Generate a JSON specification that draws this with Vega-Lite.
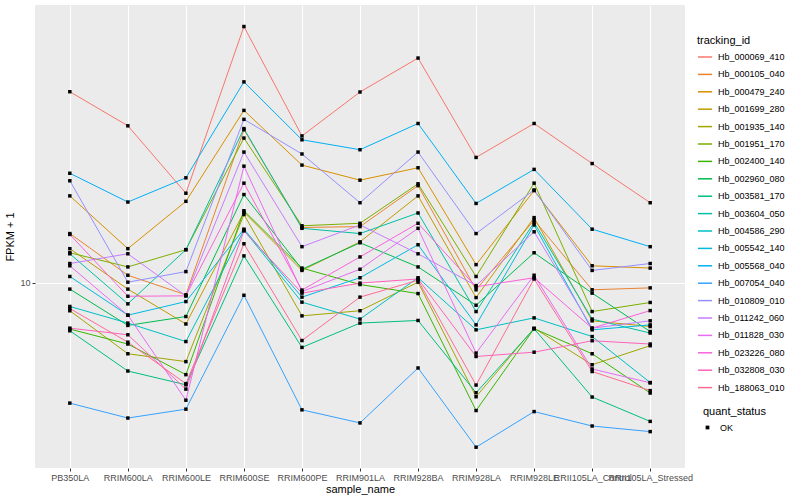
{
"$schema":"https://vega.github.io/schema/vega-lite/v6.json",
"autosize":{"type":"none"},
"padding":{"left":35,"top":5,"right":115,"bottom":32},
"width":650,"height":463,
"background":"white",
"config":{
 "view":{"fill":"#EBEBEB","stroke":null},
 "font":"Liberation Sans",
 "axis":{"labelFont":"Liberation Sans","titleFont":"Liberation Sans","labelColor":"#4D4D4D","labelFontSize":9,"tickColor":"#333333","tickSize":3,"domain":false,"gridColor":"white","gridWidth":1.1,"titleFontWeight":"normal","titleFontSize":11,"titleColor":"black"},
 "legend":{"titleFontSize":11,"titleFontWeight":"normal","labelFontSize":9,"labelFont":"Liberation Sans","titleFont":"Liberation Sans","titleColor":"black","labelColor":"black"}
},
"data":{"values":[
{"tracking_id":"Hb_000069_410","sample_name":"PB350LA","FPKM":43.4,"quant_status":"OK"},
{"tracking_id":"Hb_000069_410","sample_name":"RRIM600LA","FPKM":33.4,"quant_status":"OK"},
{"tracking_id":"Hb_000069_410","sample_name":"RRIM600LE","FPKM":19.9,"quant_status":"OK"},
{"tracking_id":"Hb_000069_410","sample_name":"RRIM600SE","FPKM":71.6,"quant_status":"OK"},
{"tracking_id":"Hb_000069_410","sample_name":"RRIM600PE","FPKM":30.9,"quant_status":"OK"},
{"tracking_id":"Hb_000069_410","sample_name":"RRIM901LA","FPKM":43.3,"quant_status":"OK"},
{"tracking_id":"Hb_000069_410","sample_name":"RRIM928BA","FPKM":56.2,"quant_status":"OK"},
{"tracking_id":"Hb_000069_410","sample_name":"RRIM928LA","FPKM":26.2,"quant_status":"OK"},
{"tracking_id":"Hb_000069_410","sample_name":"RRIM928LE","FPKM":34.0,"quant_status":"OK"},
{"tracking_id":"Hb_000069_410","sample_name":"RRII105LA_Control","FPKM":25.0,"quant_status":"OK"},
{"tracking_id":"Hb_000069_410","sample_name":"RRII105LA_Stressed","FPKM":18.5,"quant_status":"OK"},
{"tracking_id":"Hb_000105_040","sample_name":"PB350LA","FPKM":14.6,"quant_status":"OK"},
{"tracking_id":"Hb_000105_040","sample_name":"RRIM600LA","FPKM":10.6,"quant_status":"OK"},
{"tracking_id":"Hb_000105_040","sample_name":"RRIM600LE","FPKM":9.12,"quant_status":"OK"},
{"tracking_id":"Hb_000105_040","sample_name":"RRIM600SE","FPKM":32.4,"quant_status":"OK"},
{"tracking_id":"Hb_000105_040","sample_name":"RRIM600PE","FPKM":15.3,"quant_status":"OK"},
{"tracking_id":"Hb_000105_040","sample_name":"RRIM901LA","FPKM":15.4,"quant_status":"OK"},
{"tracking_id":"Hb_000105_040","sample_name":"RRIM928BA","FPKM":21.1,"quant_status":"OK"},
{"tracking_id":"Hb_000105_040","sample_name":"RRIM928LA","FPKM":9.48,"quant_status":"OK"},
{"tracking_id":"Hb_000105_040","sample_name":"RRIM928LE","FPKM":16.2,"quant_status":"OK"},
{"tracking_id":"Hb_000105_040","sample_name":"RRII105LA_Control","FPKM":9.48,"quant_status":"OK"},
{"tracking_id":"Hb_000105_040","sample_name":"RRII105LA_Stressed","FPKM":9.62,"quant_status":"OK"},
{"tracking_id":"Hb_000479_240","sample_name":"PB350LA","FPKM":19.5,"quant_status":"OK"},
{"tracking_id":"Hb_000479_240","sample_name":"RRIM600LA","FPKM":13.0,"quant_status":"OK"},
{"tracking_id":"Hb_000479_240","sample_name":"RRIM600LE","FPKM":18.7,"quant_status":"OK"},
{"tracking_id":"Hb_000479_240","sample_name":"RRIM600SE","FPKM":37.6,"quant_status":"OK"},
{"tracking_id":"Hb_000479_240","sample_name":"RRIM600PE","FPKM":24.7,"quant_status":"OK"},
{"tracking_id":"Hb_000479_240","sample_name":"RRIM901LA","FPKM":22.0,"quant_status":"OK"},
{"tracking_id":"Hb_000479_240","sample_name":"RRIM928BA","FPKM":24.2,"quant_status":"OK"},
{"tracking_id":"Hb_000479_240","sample_name":"RRIM928LA","FPKM":11.5,"quant_status":"OK"},
{"tracking_id":"Hb_000479_240","sample_name":"RRIM928LE","FPKM":20.3,"quant_status":"OK"},
{"tracking_id":"Hb_000479_240","sample_name":"RRII105LA_Control","FPKM":11.4,"quant_status":"OK"},
{"tracking_id":"Hb_000479_240","sample_name":"RRII105LA_Stressed","FPKM":11.2,"quant_status":"OK"},
{"tracking_id":"Hb_001699_280","sample_name":"PB350LA","FPKM":13.0,"quant_status":"OK"},
{"tracking_id":"Hb_001699_280","sample_name":"RRIM600LA","FPKM":9.53,"quant_status":"OK"},
{"tracking_id":"Hb_001699_280","sample_name":"RRIM600LE","FPKM":7.29,"quant_status":"OK"},
{"tracking_id":"Hb_001699_280","sample_name":"RRIM600SE","FPKM":17.2,"quant_status":"OK"},
{"tracking_id":"Hb_001699_280","sample_name":"RRIM600PE","FPKM":11.0,"quant_status":"OK"},
{"tracking_id":"Hb_001699_280","sample_name":"RRIM901LA","FPKM":13.7,"quant_status":"OK"},
{"tracking_id":"Hb_001699_280","sample_name":"RRIM928BA","FPKM":19.5,"quant_status":"OK"},
{"tracking_id":"Hb_001699_280","sample_name":"RRIM928LA","FPKM":8.93,"quant_status":"OK"},
{"tracking_id":"Hb_001699_280","sample_name":"RRIM928LE","FPKM":16.5,"quant_status":"OK"},
{"tracking_id":"Hb_001699_280","sample_name":"RRII105LA_Control","FPKM":7.47,"quant_status":"OK"},
{"tracking_id":"Hb_001699_280","sample_name":"RRII105LA_Stressed","FPKM":7.15,"quant_status":"OK"},
{"tracking_id":"Hb_001935_140","sample_name":"PB350LA","FPKM":8.07,"quant_status":"OK"},
{"tracking_id":"Hb_001935_140","sample_name":"RRIM600LA","FPKM":5.80,"quant_status":"OK"},
{"tracking_id":"Hb_001935_140","sample_name":"RRIM600LE","FPKM":5.46,"quant_status":"OK"},
{"tracking_id":"Hb_001935_140","sample_name":"RRIM600SE","FPKM":16.9,"quant_status":"OK"},
{"tracking_id":"Hb_001935_140","sample_name":"RRIM600PE","FPKM":7.76,"quant_status":"OK"},
{"tracking_id":"Hb_001935_140","sample_name":"RRIM901LA","FPKM":8.07,"quant_status":"OK"},
{"tracking_id":"Hb_001935_140","sample_name":"RRIM928BA","FPKM":10.05,"quant_status":"OK"},
{"tracking_id":"Hb_001935_140","sample_name":"RRIM928LA","FPKM":4.17,"quant_status":"OK"},
{"tracking_id":"Hb_001935_140","sample_name":"RRIM928LE","FPKM":7.06,"quant_status":"OK"},
{"tracking_id":"Hb_001935_140","sample_name":"RRII105LA_Control","FPKM":5.33,"quant_status":"OK"},
{"tracking_id":"Hb_001935_140","sample_name":"RRII105LA_Stressed","FPKM":6.17,"quant_status":"OK"},
{"tracking_id":"Hb_001951_170","sample_name":"PB350LA","FPKM":12.6,"quant_status":"OK"},
{"tracking_id":"Hb_001951_170","sample_name":"RRIM600LA","FPKM":11.3,"quant_status":"OK"},
{"tracking_id":"Hb_001951_170","sample_name":"RRIM600LE","FPKM":12.9,"quant_status":"OK"},
{"tracking_id":"Hb_001951_170","sample_name":"RRIM600SE","FPKM":30.4,"quant_status":"OK"},
{"tracking_id":"Hb_001951_170","sample_name":"RRIM600PE","FPKM":15.5,"quant_status":"OK"},
{"tracking_id":"Hb_001951_170","sample_name":"RRIM901LA","FPKM":15.8,"quant_status":"OK"},
{"tracking_id":"Hb_001951_170","sample_name":"RRIM928BA","FPKM":21.4,"quant_status":"OK"},
{"tracking_id":"Hb_001951_170","sample_name":"RRIM928LA","FPKM":10.5,"quant_status":"OK"},
{"tracking_id":"Hb_001951_170","sample_name":"RRIM928LE","FPKM":21.5,"quant_status":"OK"},
{"tracking_id":"Hb_001951_170","sample_name":"RRII105LA_Control","FPKM":8.02,"quant_status":"OK"},
{"tracking_id":"Hb_001951_170","sample_name":"RRII105LA_Stressed","FPKM":8.60,"quant_status":"OK"},
{"tracking_id":"Hb_002400_140","sample_name":"PB350LA","FPKM":7.01,"quant_status":"OK"},
{"tracking_id":"Hb_002400_140","sample_name":"RRIM600LA","FPKM":6.25,"quant_status":"OK"},
{"tracking_id":"Hb_002400_140","sample_name":"RRIM600LE","FPKM":4.94,"quant_status":"OK"},
{"tracking_id":"Hb_002400_140","sample_name":"RRIM600SE","FPKM":17.4,"quant_status":"OK"},
{"tracking_id":"Hb_002400_140","sample_name":"RRIM600PE","FPKM":11.2,"quant_status":"OK"},
{"tracking_id":"Hb_002400_140","sample_name":"RRIM901LA","FPKM":9.87,"quant_status":"OK"},
{"tracking_id":"Hb_002400_140","sample_name":"RRIM928BA","FPKM":9.21,"quant_status":"OK"},
{"tracking_id":"Hb_002400_140","sample_name":"RRIM928LA","FPKM":3.75,"quant_status":"OK"},
{"tracking_id":"Hb_002400_140","sample_name":"RRIM928LE","FPKM":7.03,"quant_status":"OK"},
{"tracking_id":"Hb_002400_140","sample_name":"RRII105LA_Control","FPKM":5.80,"quant_status":"OK"},
{"tracking_id":"Hb_002400_140","sample_name":"RRII105LA_Stressed","FPKM":4.29,"quant_status":"OK"},
{"tracking_id":"Hb_002960_080","sample_name":"PB350LA","FPKM":9.53,"quant_status":"OK"},
{"tracking_id":"Hb_002960_080","sample_name":"RRIM600LA","FPKM":7.21,"quant_status":"OK"},
{"tracking_id":"Hb_002960_080","sample_name":"RRIM600LE","FPKM":7.72,"quant_status":"OK"},
{"tracking_id":"Hb_002960_080","sample_name":"RRIM600SE","FPKM":19.7,"quant_status":"OK"},
{"tracking_id":"Hb_002960_080","sample_name":"RRIM600PE","FPKM":11.1,"quant_status":"OK"},
{"tracking_id":"Hb_002960_080","sample_name":"RRIM901LA","FPKM":13.6,"quant_status":"OK"},
{"tracking_id":"Hb_002960_080","sample_name":"RRIM928BA","FPKM":11.3,"quant_status":"OK"},
{"tracking_id":"Hb_002960_080","sample_name":"RRIM928LA","FPKM":8.42,"quant_status":"OK"},
{"tracking_id":"Hb_002960_080","sample_name":"RRIM928LE","FPKM":12.6,"quant_status":"OK"},
{"tracking_id":"Hb_002960_080","sample_name":"RRII105LA_Control","FPKM":9.24,"quant_status":"OK"},
{"tracking_id":"Hb_002960_080","sample_name":"RRII105LA_Stressed","FPKM":6.88,"quant_status":"OK"},
{"tracking_id":"Hb_003581_170","sample_name":"PB350LA","FPKM":6.92,"quant_status":"OK"},
{"tracking_id":"Hb_003581_170","sample_name":"RRIM600LA","FPKM":5.08,"quant_status":"OK"},
{"tracking_id":"Hb_003581_170","sample_name":"RRIM600LE","FPKM":4.57,"quant_status":"OK"},
{"tracking_id":"Hb_003581_170","sample_name":"RRIM600SE","FPKM":12.3,"quant_status":"OK"},
{"tracking_id":"Hb_003581_170","sample_name":"RRIM600PE","FPKM":6.09,"quant_status":"OK"},
{"tracking_id":"Hb_003581_170","sample_name":"RRIM901LA","FPKM":7.34,"quant_status":"OK"},
{"tracking_id":"Hb_003581_170","sample_name":"RRIM928BA","FPKM":7.49,"quant_status":"OK"},
{"tracking_id":"Hb_003581_170","sample_name":"RRIM928LA","FPKM":4.30,"quant_status":"OK"},
{"tracking_id":"Hb_003581_170","sample_name":"RRIM928LE","FPKM":7.03,"quant_status":"OK"},
{"tracking_id":"Hb_003581_170","sample_name":"RRII105LA_Control","FPKM":4.16,"quant_status":"OK"},
{"tracking_id":"Hb_003581_170","sample_name":"RRII105LA_Stressed","FPKM":3.45,"quant_status":"OK"},
{"tracking_id":"Hb_003604_050","sample_name":"PB350LA","FPKM":12.5,"quant_status":"OK"},
{"tracking_id":"Hb_003604_050","sample_name":"RRIM600LA","FPKM":8.51,"quant_status":"OK"},
{"tracking_id":"Hb_003604_050","sample_name":"RRIM600LE","FPKM":12.9,"quant_status":"OK"},
{"tracking_id":"Hb_003604_050","sample_name":"RRIM600SE","FPKM":32.7,"quant_status":"OK"},
{"tracking_id":"Hb_003604_050","sample_name":"RRIM600PE","FPKM":15.2,"quant_status":"OK"},
{"tracking_id":"Hb_003604_050","sample_name":"RRIM901LA","FPKM":14.6,"quant_status":"OK"},
{"tracking_id":"Hb_003604_050","sample_name":"RRIM928BA","FPKM":17.1,"quant_status":"OK"},
{"tracking_id":"Hb_003604_050","sample_name":"RRIM928LA","FPKM":8.02,"quant_status":"OK"},
{"tracking_id":"Hb_003604_050","sample_name":"RRIM928LE","FPKM":15.9,"quant_status":"OK"},
{"tracking_id":"Hb_003604_050","sample_name":"RRII105LA_Control","FPKM":7.57,"quant_status":"OK"},
{"tracking_id":"Hb_003604_050","sample_name":"RRII105LA_Stressed","FPKM":6.80,"quant_status":"OK"},
{"tracking_id":"Hb_004586_290","sample_name":"PB350LA","FPKM":8.34,"quant_status":"OK"},
{"tracking_id":"Hb_004586_290","sample_name":"RRIM600LA","FPKM":7.34,"quant_status":"OK"},
{"tracking_id":"Hb_004586_290","sample_name":"RRIM600LE","FPKM":6.37,"quant_status":"OK"},
{"tracking_id":"Hb_004586_290","sample_name":"RRIM600SE","FPKM":15.0,"quant_status":"OK"},
{"tracking_id":"Hb_004586_290","sample_name":"RRIM600PE","FPKM":8.62,"quant_status":"OK"},
{"tracking_id":"Hb_004586_290","sample_name":"RRIM901LA","FPKM":7.57,"quant_status":"OK"},
{"tracking_id":"Hb_004586_290","sample_name":"RRIM928BA","FPKM":10.4,"quant_status":"OK"},
{"tracking_id":"Hb_004586_290","sample_name":"RRIM928LA","FPKM":6.97,"quant_status":"OK"},
{"tracking_id":"Hb_004586_290","sample_name":"RRIM928LE","FPKM":7.64,"quant_status":"OK"},
{"tracking_id":"Hb_004586_290","sample_name":"RRII105LA_Control","FPKM":6.62,"quant_status":"OK"},
{"tracking_id":"Hb_004586_290","sample_name":"RRII105LA_Stressed","FPKM":4.65,"quant_status":"OK"},
{"tracking_id":"Hb_005542_140","sample_name":"PB350LA","FPKM":10.5,"quant_status":"OK"},
{"tracking_id":"Hb_005542_140","sample_name":"RRIM600LA","FPKM":7.80,"quant_status":"OK"},
{"tracking_id":"Hb_005542_140","sample_name":"RRIM600LE","FPKM":8.66,"quant_status":"OK"},
{"tracking_id":"Hb_005542_140","sample_name":"RRIM600SE","FPKM":15.1,"quant_status":"OK"},
{"tracking_id":"Hb_005542_140","sample_name":"RRIM600PE","FPKM":8.96,"quant_status":"OK"},
{"tracking_id":"Hb_005542_140","sample_name":"RRIM901LA","FPKM":10.4,"quant_status":"OK"},
{"tracking_id":"Hb_005542_140","sample_name":"RRIM928BA","FPKM":13.4,"quant_status":"OK"},
{"tracking_id":"Hb_005542_140","sample_name":"RRIM928LA","FPKM":7.24,"quant_status":"OK"},
{"tracking_id":"Hb_005542_140","sample_name":"RRIM928LE","FPKM":15.6,"quant_status":"OK"},
{"tracking_id":"Hb_005542_140","sample_name":"RRII105LA_Control","FPKM":6.97,"quant_status":"OK"},
{"tracking_id":"Hb_005542_140","sample_name":"RRII105LA_Stressed","FPKM":7.24,"quant_status":"OK"},
{"tracking_id":"Hb_005568_040","sample_name":"PB350LA","FPKM":23.2,"quant_status":"OK"},
{"tracking_id":"Hb_005568_040","sample_name":"RRIM600LA","FPKM":18.6,"quant_status":"OK"},
{"tracking_id":"Hb_005568_040","sample_name":"RRIM600LE","FPKM":22.4,"quant_status":"OK"},
{"tracking_id":"Hb_005568_040","sample_name":"RRIM600SE","FPKM":46.8,"quant_status":"OK"},
{"tracking_id":"Hb_005568_040","sample_name":"RRIM600PE","FPKM":30.0,"quant_status":"OK"},
{"tracking_id":"Hb_005568_040","sample_name":"RRIM901LA","FPKM":27.8,"quant_status":"OK"},
{"tracking_id":"Hb_005568_040","sample_name":"RRIM928BA","FPKM":34.0,"quant_status":"OK"},
{"tracking_id":"Hb_005568_040","sample_name":"RRIM928LA","FPKM":18.4,"quant_status":"OK"},
{"tracking_id":"Hb_005568_040","sample_name":"RRIM928LE","FPKM":23.9,"quant_status":"OK"},
{"tracking_id":"Hb_005568_040","sample_name":"RRII105LA_Control","FPKM":15.1,"quant_status":"OK"},
{"tracking_id":"Hb_005568_040","sample_name":"RRII105LA_Stressed","FPKM":13.2,"quant_status":"OK"},
{"tracking_id":"Hb_007054_040","sample_name":"PB350LA","FPKM":3.97,"quant_status":"OK"},
{"tracking_id":"Hb_007054_040","sample_name":"RRIM600LA","FPKM":3.54,"quant_status":"OK"},
{"tracking_id":"Hb_007054_040","sample_name":"RRIM600LE","FPKM":3.79,"quant_status":"OK"},
{"tracking_id":"Hb_007054_040","sample_name":"RRIM600SE","FPKM":9.09,"quant_status":"OK"},
{"tracking_id":"Hb_007054_040","sample_name":"RRIM600PE","FPKM":3.77,"quant_status":"OK"},
{"tracking_id":"Hb_007054_040","sample_name":"RRIM901LA","FPKM":3.41,"quant_status":"OK"},
{"tracking_id":"Hb_007054_040","sample_name":"RRIM928BA","FPKM":5.20,"quant_status":"OK"},
{"tracking_id":"Hb_007054_040","sample_name":"RRIM928LA","FPKM":2.83,"quant_status":"OK"},
{"tracking_id":"Hb_007054_040","sample_name":"RRIM928LE","FPKM":3.72,"quant_status":"OK"},
{"tracking_id":"Hb_007054_040","sample_name":"RRII105LA_Control","FPKM":3.33,"quant_status":"OK"},
{"tracking_id":"Hb_007054_040","sample_name":"RRII105LA_Stressed","FPKM":3.19,"quant_status":"OK"},
{"tracking_id":"Hb_010809_010","sample_name":"PB350LA","FPKM":21.9,"quant_status":"OK"},
{"tracking_id":"Hb_010809_010","sample_name":"RRIM600LA","FPKM":10.05,"quant_status":"OK"},
{"tracking_id":"Hb_010809_010","sample_name":"RRIM600LE","FPKM":10.9,"quant_status":"OK"},
{"tracking_id":"Hb_010809_010","sample_name":"RRIM600SE","FPKM":35.1,"quant_status":"OK"},
{"tracking_id":"Hb_010809_010","sample_name":"RRIM600PE","FPKM":26.9,"quant_status":"OK"},
{"tracking_id":"Hb_010809_010","sample_name":"RRIM901LA","FPKM":18.5,"quant_status":"OK"},
{"tracking_id":"Hb_010809_010","sample_name":"RRIM928BA","FPKM":27.3,"quant_status":"OK"},
{"tracking_id":"Hb_010809_010","sample_name":"RRIM928LA","FPKM":14.6,"quant_status":"OK"},
{"tracking_id":"Hb_010809_010","sample_name":"RRIM928LE","FPKM":20.4,"quant_status":"OK"},
{"tracking_id":"Hb_010809_010","sample_name":"RRII105LA_Control","FPKM":11.0,"quant_status":"OK"},
{"tracking_id":"Hb_010809_010","sample_name":"RRII105LA_Stressed","FPKM":11.6,"quant_status":"OK"},
{"tracking_id":"Hb_011242_060","sample_name":"PB350LA","FPKM":11.6,"quant_status":"OK"},
{"tracking_id":"Hb_011242_060","sample_name":"RRIM600LA","FPKM":12.5,"quant_status":"OK"},
{"tracking_id":"Hb_011242_060","sample_name":"RRIM600LE","FPKM":9.05,"quant_status":"OK"},
{"tracking_id":"Hb_011242_060","sample_name":"RRIM600SE","FPKM":27.3,"quant_status":"OK"},
{"tracking_id":"Hb_011242_060","sample_name":"RRIM600PE","FPKM":13.2,"quant_status":"OK"},
{"tracking_id":"Hb_011242_060","sample_name":"RRIM901LA","FPKM":15.6,"quant_status":"OK"},
{"tracking_id":"Hb_011242_060","sample_name":"RRIM928BA","FPKM":12.5,"quant_status":"OK"},
{"tracking_id":"Hb_011242_060","sample_name":"RRIM928LA","FPKM":9.79,"quant_status":"OK"},
{"tracking_id":"Hb_011242_060","sample_name":"RRIM928LE","FPKM":14.8,"quant_status":"OK"},
{"tracking_id":"Hb_011242_060","sample_name":"RRII105LA_Control","FPKM":7.06,"quant_status":"OK"},
{"tracking_id":"Hb_011242_060","sample_name":"RRII105LA_Stressed","FPKM":7.47,"quant_status":"OK"},
{"tracking_id":"Hb_011828_030","sample_name":"PB350LA","FPKM":11.4,"quant_status":"OK"},
{"tracking_id":"Hb_011828_030","sample_name":"RRIM600LA","FPKM":7.80,"quant_status":"OK"},
{"tracking_id":"Hb_011828_030","sample_name":"RRIM600LE","FPKM":4.06,"quant_status":"OK"},
{"tracking_id":"Hb_011828_030","sample_name":"RRIM600SE","FPKM":24.5,"quant_status":"OK"},
{"tracking_id":"Hb_011828_030","sample_name":"RRIM600PE","FPKM":9.35,"quant_status":"OK"},
{"tracking_id":"Hb_011828_030","sample_name":"RRIM901LA","FPKM":11.1,"quant_status":"OK"},
{"tracking_id":"Hb_011828_030","sample_name":"RRIM928BA","FPKM":15.2,"quant_status":"OK"},
{"tracking_id":"Hb_011828_030","sample_name":"RRIM928LA","FPKM":5.83,"quant_status":"OK"},
{"tracking_id":"Hb_011828_030","sample_name":"RRIM928LE","FPKM":10.6,"quant_status":"OK"},
{"tracking_id":"Hb_011828_030","sample_name":"RRII105LA_Control","FPKM":5.16,"quant_status":"OK"},
{"tracking_id":"Hb_011828_030","sample_name":"RRII105LA_Stressed","FPKM":4.64,"quant_status":"OK"},
{"tracking_id":"Hb_023226_080","sample_name":"PB350LA","FPKM":14.5,"quant_status":"OK"},
{"tracking_id":"Hb_023226_080","sample_name":"RRIM600LA","FPKM":9.02,"quant_status":"OK"},
{"tracking_id":"Hb_023226_080","sample_name":"RRIM600LE","FPKM":9.05,"quant_status":"OK"},
{"tracking_id":"Hb_023226_080","sample_name":"RRIM600SE","FPKM":21.5,"quant_status":"OK"},
{"tracking_id":"Hb_023226_080","sample_name":"RRIM600PE","FPKM":9.46,"quant_status":"OK"},
{"tracking_id":"Hb_023226_080","sample_name":"RRIM901LA","FPKM":12.2,"quant_status":"OK"},
{"tracking_id":"Hb_023226_080","sample_name":"RRIM928BA","FPKM":15.8,"quant_status":"OK"},
{"tracking_id":"Hb_023226_080","sample_name":"RRIM928LA","FPKM":9.70,"quant_status":"OK"},
{"tracking_id":"Hb_023226_080","sample_name":"RRIM928LE","FPKM":10.4,"quant_status":"OK"},
{"tracking_id":"Hb_023226_080","sample_name":"RRII105LA_Control","FPKM":7.06,"quant_status":"OK"},
{"tracking_id":"Hb_023226_080","sample_name":"RRII105LA_Stressed","FPKM":8.08,"quant_status":"OK"},
{"tracking_id":"Hb_032808_030","sample_name":"PB350LA","FPKM":7.06,"quant_status":"OK"},
{"tracking_id":"Hb_032808_030","sample_name":"RRIM600LA","FPKM":6.71,"quant_status":"OK"},
{"tracking_id":"Hb_032808_030","sample_name":"RRIM600LE","FPKM":4.42,"quant_status":"OK"},
{"tracking_id":"Hb_032808_030","sample_name":"RRIM600SE","FPKM":14.9,"quant_status":"OK"},
{"tracking_id":"Hb_032808_030","sample_name":"RRIM600PE","FPKM":9.24,"quant_status":"OK"},
{"tracking_id":"Hb_032808_030","sample_name":"RRIM901LA","FPKM":9.98,"quant_status":"OK"},
{"tracking_id":"Hb_032808_030","sample_name":"RRIM928BA","FPKM":10.3,"quant_status":"OK"},
{"tracking_id":"Hb_032808_030","sample_name":"RRIM928LA","FPKM":5.68,"quant_status":"OK"},
{"tracking_id":"Hb_032808_030","sample_name":"RRIM928LE","FPKM":5.87,"quant_status":"OK"},
{"tracking_id":"Hb_032808_030","sample_name":"RRII105LA_Control","FPKM":6.41,"quant_status":"OK"},
{"tracking_id":"Hb_032808_030","sample_name":"RRII105LA_Stressed","FPKM":6.25,"quant_status":"OK"},
{"tracking_id":"Hb_188063_010","sample_name":"PB350LA","FPKM":8.21,"quant_status":"OK"},
{"tracking_id":"Hb_188063_010","sample_name":"RRIM600LA","FPKM":6.34,"quant_status":"OK"},
{"tracking_id":"Hb_188063_010","sample_name":"RRIM600LE","FPKM":4.61,"quant_status":"OK"},
{"tracking_id":"Hb_188063_010","sample_name":"RRIM600SE","FPKM":13.5,"quant_status":"OK"},
{"tracking_id":"Hb_188063_010","sample_name":"RRIM600PE","FPKM":6.42,"quant_status":"OK"},
{"tracking_id":"Hb_188063_010","sample_name":"RRIM901LA","FPKM":8.96,"quant_status":"OK"},
{"tracking_id":"Hb_188063_010","sample_name":"RRIM928BA","FPKM":10.2,"quant_status":"OK"},
{"tracking_id":"Hb_188063_010","sample_name":"RRIM928LA","FPKM":4.56,"quant_status":"OK"},
{"tracking_id":"Hb_188063_010","sample_name":"RRIM928LE","FPKM":10.3,"quant_status":"OK"},
{"tracking_id":"Hb_188063_010","sample_name":"RRII105LA_Control","FPKM":5.06,"quant_status":"OK"},
{"tracking_id":"Hb_188063_010","sample_name":"RRII105LA_Stressed","FPKM":4.37,"quant_status":"OK"}
]},
"encoding":{
 "x":{"field":"sample_name","type":"nominal",
  "sort":["PB350LA","RRIM600LA","RRIM600LE","RRIM600SE","RRIM600PE","RRIM901LA","RRIM928BA","RRIM928LA","RRIM928LE","RRII105LA_Control","RRII105LA_Stressed"],
  "scale":{"type":"point","padding":0.6},
  "axis":{"title":"sample_name","labelAngle":0,"labelOverlap":false,"labelPadding":2,"titlePadding":1,"grid":true}},
 "y":{"field":"FPKM","type":"quantitative",
  "scale":{"type":"log","domain":[2.412,84.47],"nice":false,"zero":false},
  "axis":{"title":"FPKM + 1","values":[10],"format":"d","labelPadding":2,"titlePadding":4,"grid":true}}
},
"layer":[
 {"mark":{"type":"line","strokeWidth":1},
  "encoding":{
   "color":{"field":"tracking_id","type":"nominal",
    "scale":{"domain":["Hb_000069_410","Hb_000105_040","Hb_000479_240","Hb_001699_280","Hb_001935_140","Hb_001951_170","Hb_002400_140","Hb_002960_080","Hb_003581_170","Hb_003604_050","Hb_004586_290","Hb_005542_140","Hb_005568_040","Hb_007054_040","Hb_010809_010","Hb_011242_060","Hb_011828_030","Hb_023226_080","Hb_032808_030","Hb_188063_010"],
     "range":["#F8766D","#EA8331","#D89000","#C09B00","#A3A500","#7CAE00","#39B600","#00BB4E","#00BF7D","#00C1A3","#00BFC4","#00BAE0","#00B0F6","#35A2FF","#9590FF","#C77CFF","#E76BF3","#FA62DB","#FF62BC","#FF6C91"]},
    "legend":{"title":"tracking_id","orient":"none","legendX":662,"legendY":30,"symbolType":"stroke","symbolSize":200,"symbolStrokeWidth":1.5,"labelOffset":5,"rowPadding":4.4,"titlePadding":3}}
  }},
 {"mark":{"type":"point","filled":true,"color":"black","size":12,"opacity":1},
  "encoding":{
   "shape":{"field":"quant_status","type":"nominal","scale":{"range":["square"]},
    "legend":{"title":"quant_status","orient":"none","legendX":668,"legendY":401,"symbolFillColor":"black","symbolStrokeColor":"black","symbolSize":14,"labelOffset":8,"titlePadding":6}}
  }}
]
}
